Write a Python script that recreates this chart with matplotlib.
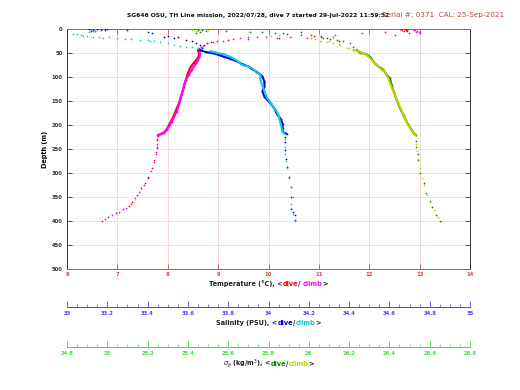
import matplotlib
matplotlib.use("Agg")
import matplotlib.pyplot as plt
import numpy as np
from matplotlib.transforms import IdentityTransform
from matplotlib.ticker import MultipleLocator

# ---------------- data ----------------
temp_dive = [12.62, 12.66, 12.70, 12.72, 12.68, 12.75, 12.78, 12.74,
             10.9, 10.2, 9.6, 9.2, 8.97, 8.85, 8.78, 8.72, 8.66, 8.62, 8.60, 8.62, 8.62, 8.60,
             8.56, 8.52, 8.48, 8.44, 8.41, 8.38, 8.36, 8.33, 8.31, 8.28, 8.25, 8.22, 8.18, 8.14,
             8.10, 8.06, 8.02, 7.98, 7.93, 7.86, 7.80, 7.79, 7.79, 7.77, 7.73, 7.68, 7.61, 7.55,
             7.47, 7.38, 7.30, 7.24, 7.12, 6.97, 6.81, 6.69]
depth_temp_dive = [1, 2, 1, 3, 4, 5, 8, 2,
                   15, 18, 20, 23, 26, 28, 30, 33, 37, 41, 45, 50, 55, 60,
                   65, 70, 75, 82, 90, 98, 106, 115, 125, 135, 145, 155, 165, 175,
                   185, 193, 201, 209, 215, 219, 222, 232, 245, 256, 273, 290, 308, 321,
                   332, 346, 360, 369, 376, 384, 391, 399]

temp_climb = [12.87, 12.90, 12.95, 12.93, 12.98, 13.0, 12.88,
              12.51, 12.31, 11.85, 11.32, 11.29, 11.09, 10.76, 10.43, 10.16, 9.95, 9.77, 9.6,
              9.43, 9.3, 9.1, 8.9, 8.77, 8.70, 8.64, 8.63, 8.64, 8.63, 8.60, 8.57, 8.52, 8.48,
              8.42, 8.36, 8.32, 8.29, 8.26, 8.24, 8.21, 8.18, 8.13, 8.08, 8.03, 7.98, 7.92, 7.80,
              7.79, 7.78, 7.78, 7.76, 7.72, 7.66, 7.60, 7.52, 7.43, 7.35, 7.28, 7.18, 7.04, 6.90, 6.75]
depth_temp_climb = [1, 3, 4, 6, 7, 9, 2,
                    12, 6, 9, 13, 16, 19, 19, 16, 18, 17, 16, 17,
                    18, 21, 24, 27, 30, 35, 42, 47, 51, 58, 64, 71, 78, 85,
                    95, 106, 120, 131, 141, 151, 161, 172, 182, 193, 202, 210, 217, 221,
                    230, 240, 248, 260, 278, 295, 310, 326, 340, 352, 364, 373, 381, 388, 396]

sal_dive = [33.11, 33.13, 33.15, 33.17, 33.12, 33.19, 33.14, 33.20,
            33.30, 33.40, 33.42, 33.50, 33.48, 33.55, 33.53, 33.59, 33.62, 33.64, 33.66, 33.67,
            33.66, 33.69, 33.73, 33.76, 33.78, 33.81, 33.83, 33.86, 33.88, 33.90, 33.92, 33.94,
            33.96, 33.97, 33.98, 33.98, 33.97, 33.98, 34.01, 34.03, 34.04, 34.06, 34.07, 34.07,
            34.07, 34.09, 34.08, 34.08, 34.08, 34.085, 34.09, 34.10, 34.11, 34.11, 34.11, 34.12,
            34.13, 34.13]
depth_sal_dive = [1, 2, 1, 3, 4, 2, 5, 1,
                  2, 7, 9, 14, 16, 17, 19, 23, 26, 30, 34, 39,
                  44, 48, 51, 55, 58, 62, 65, 71, 75, 78, 84, 89,
                  95, 99, 110, 120, 130, 141, 155, 166, 176, 187, 197, 206,
                  214, 219, 224, 236, 252, 270, 287, 308, 329, 349, 374, 382,
                  388, 398]

sal_climb = [33.12, 33.13, 33.14, 33.11,
             33.03, 33.05, 33.07, 33.08, 33.10, 33.13, 33.16, 33.18, 33.21, 33.25, 33.29, 33.32,
             33.36, 33.40, 33.41, 33.43, 33.46, 33.50, 33.53, 33.56, 33.59, 33.62, 33.65, 33.68,
             33.71, 33.74, 33.78, 33.81, 33.83, 33.85, 33.87, 33.90, 33.92, 33.94, 33.96, 33.96,
             33.97, 33.98, 33.99, 34.02, 34.04, 34.05, 34.06, 34.07, 34.08, 34.08, 34.08, 34.08,
             34.085, 34.09, 34.10, 34.11, 34.12, 34.11, 34.11, 34.12, 34.13]
depth_sal_climb = [3, 4, 5, 6,
                   10, 11, 13, 14, 15, 16, 17, 18, 17, 18, 20, 21,
                   22, 23, 25, 25, 28, 30, 33, 35, 37, 38, 40, 43,
                   46, 49, 53, 58, 62, 68, 75, 78, 82, 90, 96, 106,
                   118, 130, 141, 160, 172, 180, 197, 214, 219, 230, 245, 260,
                   275, 290, 310, 330, 350, 365, 372, 386, 400]

sig_dive = [25.43, 25.45, 25.47, 25.49, 25.46, 25.44,
            25.59, 25.71, 25.77, 25.83, 25.87, 25.89, 25.96, 25.96, 26.01, 26.06, 26.06, 26.09,
            26.105, 26.138, 26.15, 26.171, 26.204, 26.221, 26.238, 26.254, 26.287, 26.304,
            26.329, 26.345, 26.37, 26.387, 26.403, 26.411, 26.43, 26.45, 26.47, 26.49, 26.51,
            26.52, 26.53, 26.53, 26.53, 26.54, 26.54, 26.55, 26.57, 26.58, 26.60, 26.61, 26.63, 26.65]
depth_sig_dive = [1, 3, 2, 5, 6, 8,
                  4, 6, 7, 9, 9, 11, 7, 12.5, 12.5, 14, 16, 19,
                  21, 23, 24, 25, 30, 37, 44, 49, 53, 58,
                  72, 78, 85, 96, 103, 117, 141, 162, 180, 197, 210,
                  217, 221, 233, 245, 260, 273, 301, 321, 342, 358, 370, 388, 399]

sig_climb = [25.42, 25.46, 25.48, 25.50, 25.44,
             25.81, 25.85, 25.91, 26.01, 26.03, 26.06, 26.056, 26.10, 26.089, 26.122, 26.15, 26.155,
             26.188, 26.20, 26.221, 26.254, 26.287, 26.304, 26.32, 26.337, 26.362, 26.378, 26.395,
             26.403, 26.42, 26.44, 26.46, 26.48, 26.50, 26.52, 26.53, 26.53, 26.535, 26.54, 26.55,
             26.56, 26.57, 26.585, 26.60, 26.62, 26.64, 26.66]
depth_sig_climb = [2, 1, 0.5, 3, 4,
                   15, 13, 17, 19, 21, 24, 26, 26, 28, 30, 31, 33,
                   39, 40, 44, 47, 54, 61, 68, 75, 85, 89, 103,
                   113, 130, 150, 170, 190, 205, 216, 222, 240, 255, 270, 290,
                   310, 325, 345, 360, 378, 392, 400]

temp_ticks = [6, 7, 8, 9, 10, 11, 12, 13, 14]
sal_ticks = [33, 33.2, 33.4, 33.6, 33.8, 34, 34.2, 34.4, 34.6, 34.8, 35]
sal_ticklabels = ["33", "33.2", "33.4", "33.6", "33.8", "34", "34.2", "34.4", "34.6", "34.8", "35"]
sig_ticks = [24.8, 25, 25.2, 25.4, 25.6, 25.8, 26, 26.2, 26.4, 26.6, 26.8]
sig_ticklabels = ["24.8", "25", "25.2", "25.4", "25.6", "25.8", "26", "26.2", "26.4", "26.6", "26.8"]
depth_ticks = list(range(0, 501, 50))

title = "SG646 OSU, TH Line mission, 2022/07/28, dive 7 started 29-Jul-2022 11:59:52"
serial = "Serial #: 0371  CAL: 25-Sep-2021"

# ---------------- style ----------------
W, H = 520, 390
FS_TICK = 3.8
FS_LAB = 4.7
FS_TITLE = 4.3
FS_SERIAL = 5.2
C_TAX = "#d84545"
C_SAX = "#4646ff"
C_GAX = "#3fe03f"
C_TD, C_TC = "#ff0000", "#ff00ff"
C_SD, C_SC = "#0000d8", "#16c6d8"
C_GD, C_GC = "#0b870b", "#c4d000"

fig = plt.figure(figsize=(W / 100, H / 100), dpi=100)
pos = [67 / W, 1 - 269 / H, 403 / W, 240 / H]

ax = fig.add_axes(pos)
ax.set_xlim(6, 14)
ax.set_ylim(500, 0)
ax.set_xticks(temp_ticks)
ax.set_xticklabels([str(t) for t in temp_ticks])
ax.set_yticks(depth_ticks)
ax.tick_params(axis="x", colors=C_TAX, direction="in", length=3.5, width=0.6,
               labelsize=FS_TICK, top=True, pad=2.5)
ax.tick_params(axis="y", colors="#333333", direction="in", length=3.5, width=0.6,
               labelsize=FS_TICK, right=True, pad=3)
for lab in ax.get_xticklabels() + ax.get_yticklabels():
    lab.set_fontweight("bold")
ax.spines["bottom"].set_color(C_TAX)
ax.spines["top"].set_color(C_TAX)
ax.spines["left"].set_color("#333333")
ax.spines["right"].set_color("#333333")
for s in ax.spines.values():
    s.set_linewidth(0.7)
for t in temp_ticks[1:-1]:
    ax.axvline(t, color="#f3d2d2", lw=0.6, zorder=0)
for d in depth_ticks[1:-1]:
    ax.axhline(d, color="#e2e2e2", lw=0.6, zorder=0)
ax.set_ylabel("Depth (m)", fontsize=FS_LAB, fontweight="bold", labelpad=3)


def secondary(offset_px, lim, ticks, labels, color, minor):
    a = fig.add_axes(pos)
    a.patch.set_visible(False)
    for k in ("top", "left", "right"):
        a.spines[k].set_visible(False)
    a.spines["bottom"].set_position(("outward", offset_px * 0.72))
    a.spines["bottom"].set_color(color)
    a.spines["bottom"].set_linewidth(0.7)
    a.set_xlim(*lim)
    a.set_ylim(500, 0)
    a.yaxis.set_visible(False)
    a.set_xticks(ticks)
    a.set_xticklabels(labels)
    a.xaxis.set_minor_locator(MultipleLocator(minor))
    a.tick_params(axis="x", which="major", colors=color, direction="in", length=4,
                  width=0.6, labelsize=FS_TICK, pad=3)
    a.tick_params(axis="x", which="minor", colors=color, direction="in", length=2,
                  width=0.5)
    for lab in a.get_xticklabels():
        lab.set_fontweight("bold")
    return a


axs = secondary(38, (33, 35), sal_ticks, sal_ticklabels, C_SAX, 0.05)
axg = secondary(78, (24.8, 26.8), sig_ticks, sig_ticklabels, C_GAX, 0.05)

MS = 2.5
DENSE_LW = 1.5


def draw(a, x, d, color, dmin, dmax):
    x = np.asarray(x, float)
    d = np.asarray(d, float)
    a.plot(x, d, ".", color=color, ms=MS, mew=0, zorder=3)
    m = (d >= dmin) & (d <= dmax)
    a.plot(x[m], d[m], "-", color=color, lw=DENSE_LW, zorder=3, solid_capstyle="round")


draw(ax, temp_dive, depth_temp_dive, C_TD, 40, 222)
draw(ax, temp_climb, depth_temp_climb, C_TC, 45, 222)
draw(axs, sal_dive, depth_sal_dive, C_SD, 40, 222)
draw(axs, sal_climb, depth_sal_climb, C_SC, 44, 222)
draw(axg, sig_dive, depth_sig_dive, C_GD, 40, 222)
draw(axg, sig_climb, depth_sig_climb, C_GC, 44, 222)

# ---------------- multi-colour labels ----------------
fig.canvas.draw()
renderer = fig.canvas.get_renderer()


def width(s, fs):
    t = fig.text(0, 0, s + "|", fontsize=fs, fontweight="bold", transform=IdentityTransform())
    w1 = t.get_window_extent(renderer).width
    t.remove()
    t = fig.text(0, 0, "|", fontsize=fs, fontweight="bold", transform=IdentityTransform())
    w2 = t.get_window_extent(renderer).width
    t.remove()
    return w1 - w2


def multi(xc, ytop, parts, fs=FS_LAB):
    ws = [width(s, fs) for s, _ in parts]
    x = xc - sum(ws) / 2
    y = H - ytop
    for (s, c), w in zip(parts, ws):
        fig.text(x, y, s, color=c, fontsize=fs, fontweight="bold", ha="left",
                 va="center", transform=IdentityTransform())
        x += w


xc = (67 + 470) / 2
multi(xc, 284, [("Temperature (\u00b0C), <", "#222222"), ("dive", C_TD), ("/ ", "#222222"),
                ("climb", C_TC), (">", "#222222")])
multi(xc, 323, [("Salinity (PSU), <", "#222222"), ("dive", C_SD), ("/", "#222222"),
                ("climb", C_SC), (">", "#222222")])
multi(xc, 364, [(r"$\sigma_\theta$ (kg/m$^3$), <", "#222222"), ("dive", C_GD), ("/", "#222222"),
                ("climb", C_GC), (">", "#222222")])

fig.text(258 / W, 1 - 15 / H, title, fontsize=FS_TITLE, fontweight="bold", ha="center",
         va="center", color="#111111")
fig.text(382 / W, 1 - 15 / H, serial, fontsize=FS_SERIAL, ha="left", va="center", color="#b04a3e")

fig.savefig("out.png", dpi=100)
